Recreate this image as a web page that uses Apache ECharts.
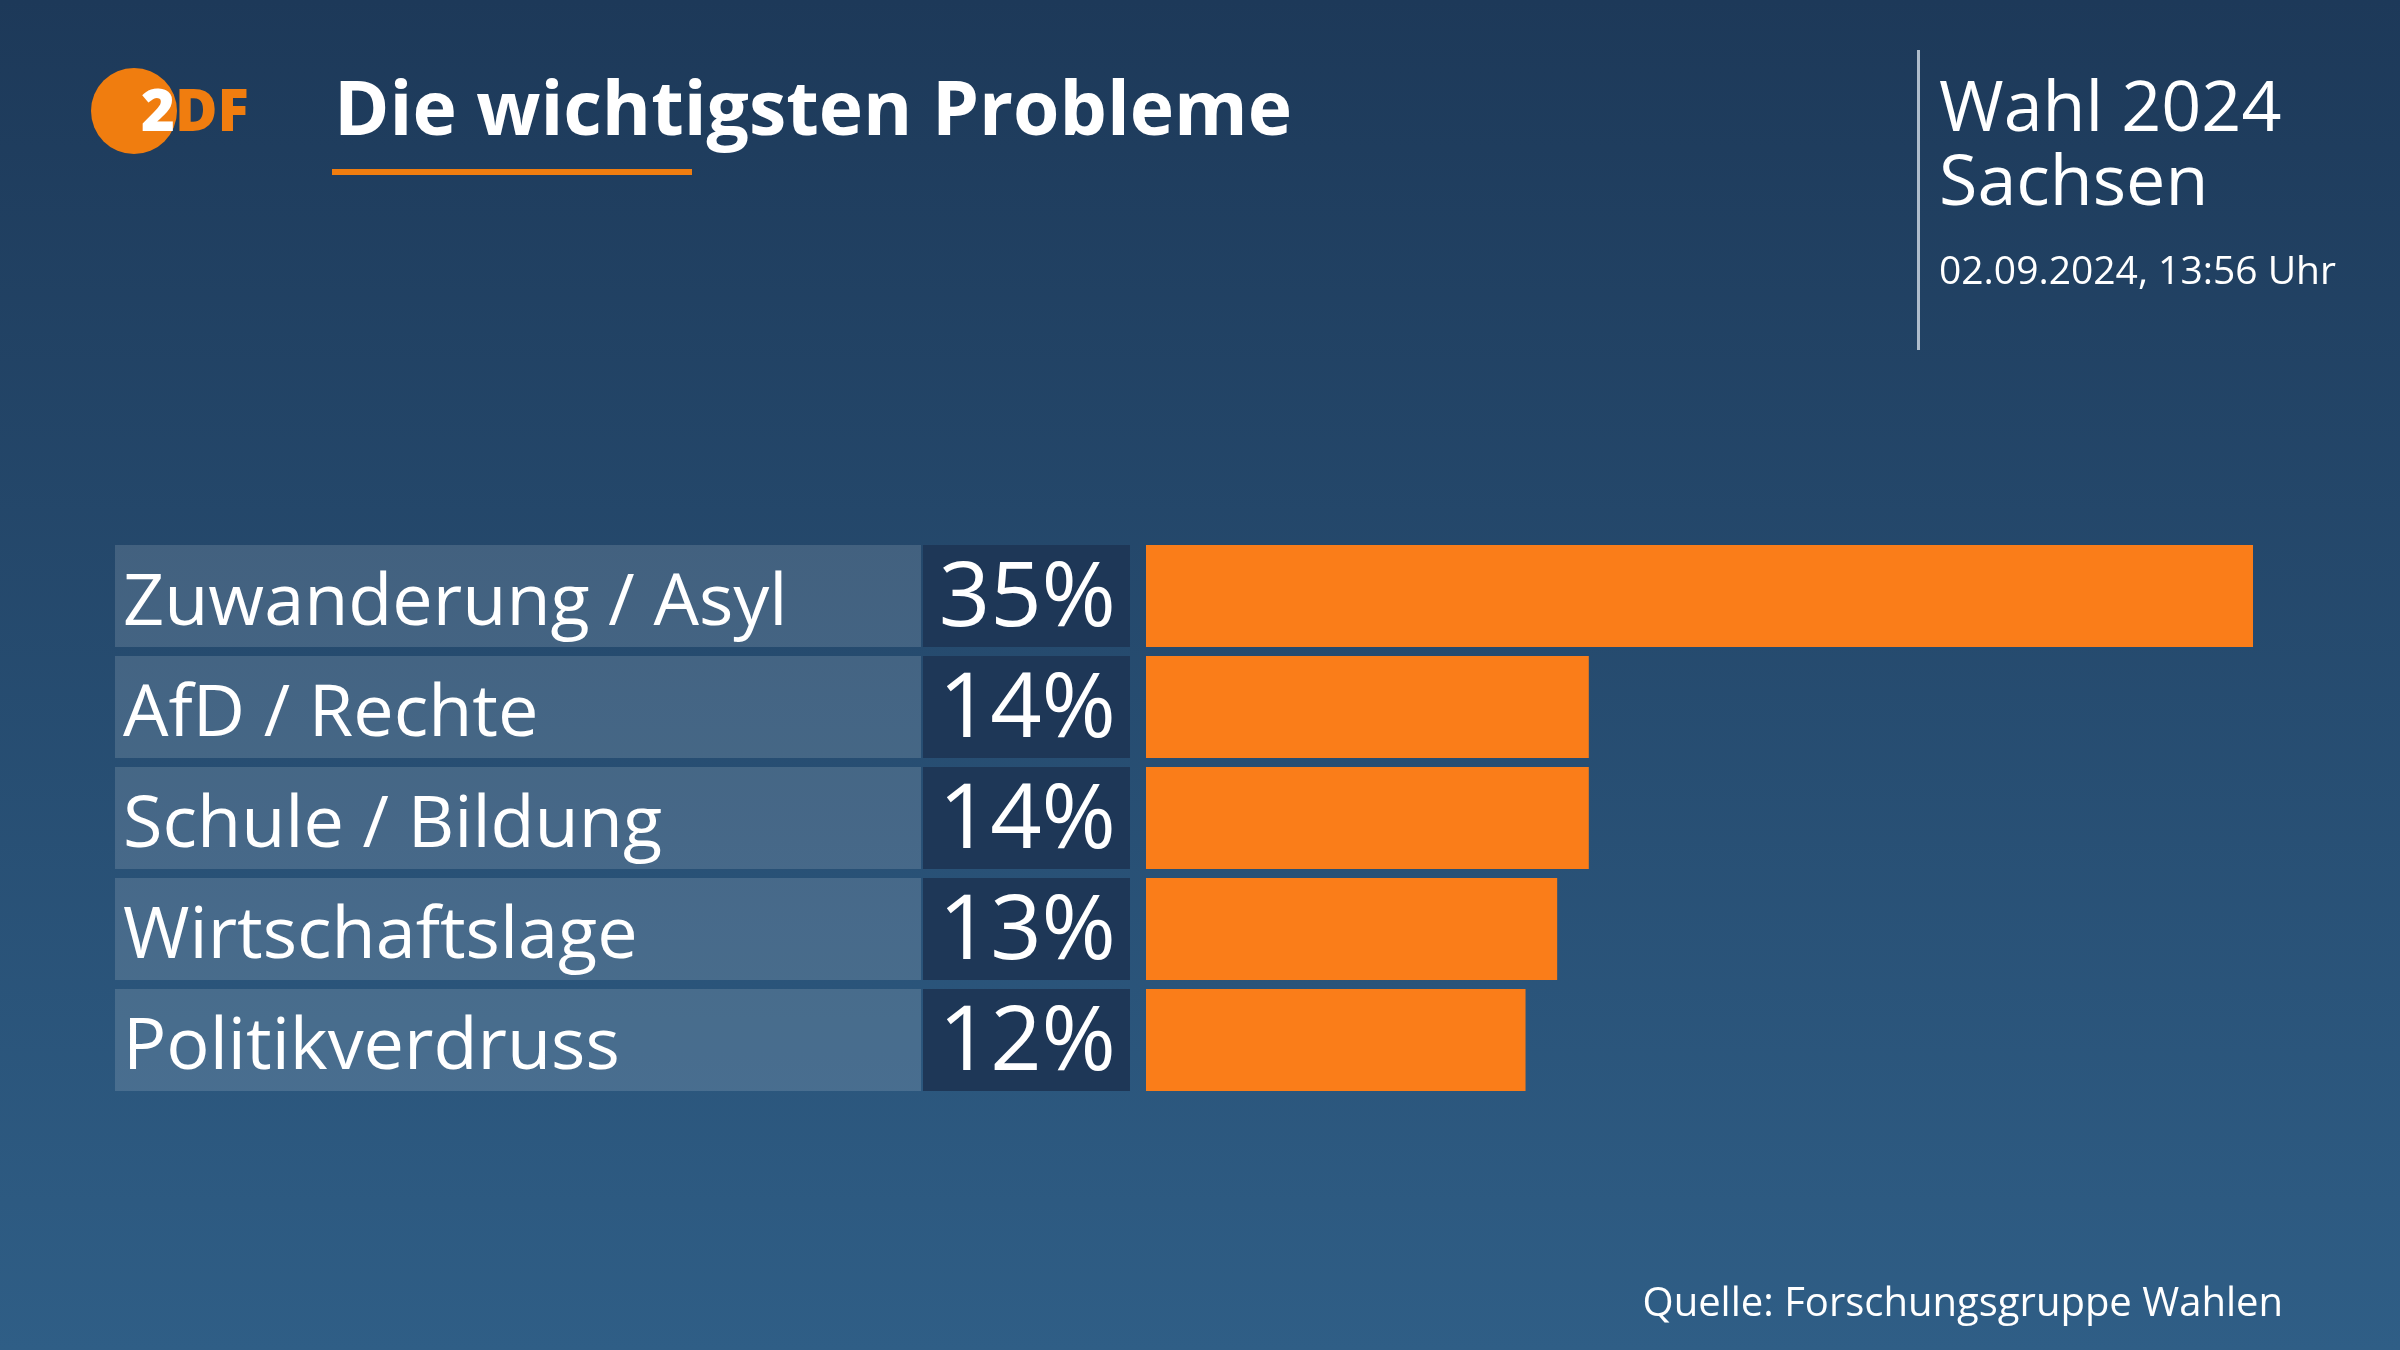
<!DOCTYPE html>
<html>
<head>
<meta charset="utf-8">
<script src="https://cdn.jsdelivr.net/npm/echarts@6/dist/echarts.min.js"></script>
<style>
html,body{margin:0;padding:0;width:2400px;height:1350px;overflow:hidden;}
#chart{width:2400px;height:1350px;}
</style>
</head>
<body>
<div id="chart"></div>
<script>
const categories = ['Zuwanderung / Asyl', 'AfD / Rechte', 'Schule / Bildung', 'Wirtschaftslage', 'Politikverdruss'];
const values = [35, 14, 14, 13, 12];
const titleText = 'Die wichtigsten Probleme';
const headerLines = ['Wahl 2024', 'Sachsen'];
const dateText = '02.09.2024, 13:56 Uhr';
const sourceText = 'Quelle: Forschungsgruppe Wahlen';

const FONT = '"Open Sans", "Noto Sans", sans-serif';
const chart = echarts.init(document.getElementById('chart'), null, {renderer: 'canvas'});

const option = {
  backgroundColor: {
    type: 'linear', x: 0, y: 0, x2: 0, y2: 1,
    colorStops: [{offset: 0, color: '#1d3959'}, {offset: 1, color: '#2f5e86'}]
  },
  animation: false,
  grid: {left: 1146, right: 147, top: 540.5, height: 555, containLabel: false},
  xAxis: {type: 'value', min: 0, max: 35, show: false},
  yAxis: {type: 'category', data: categories, inverse: true, show: false},
  series: [
    {
      type: 'custom',
      coordinateSystem: 'cartesian2d',
      encode: {y: 0, x: 1},
      data: categories.map((c, i) => [i, 0]),
      renderItem: function (params, api) {
        const idx = api.value(0);
        const pt = api.coord([0, idx]);
        const band = api.size([0, 1])[1];
        const h = band * 0.919;
        const y0 = pt[1] - h / 2;
        return {
          type: 'group',
          children: [
            {type: 'rect', shape: {x: 115, y: y0, width: 806, height: h},
             style: {fill: 'rgba(255,255,255,0.14)'}},
            {type: 'rect', shape: {x: 923, y: y0, width: 207, height: h},
             style: {fill: '#1e3757'}},
            {type: 'text', x: 123, y: pt[1] + 8,
             style: {text: categories[idx], fill: '#ffffff', font: '400 72px ' + FONT,
                     align: 'left', verticalAlign: 'middle'}},
            {type: 'text', x: 1116, y: pt[1] + 4,
             style: {text: values[idx] + '%', fill: '#ffffff', font: '400 90px ' + FONT,
                     align: 'right', verticalAlign: 'middle'}}
          ]
        };
      }
    },
    {
      type: 'bar',
      data: values,
      barWidth: '91.9%',
      itemStyle: {color: '#fa7d19'},
      silent: true
    }
  ],
  graphic: [
    {type: 'circle', shape: {cx: 134, cy: 111, r: 43}, style: {fill: '#f07d0f'}},
    {type: 'text', x: 141, y: 114, style: {text: '2', fill: '#ffffff', font: '800 58px ' + FONT, align: 'left', verticalAlign: 'middle'}},
    {type: 'text', x: 175, y: 114, style: {text: 'DF', fill: '#f07d0f', font: '800 58px ' + FONT, align: 'left', verticalAlign: 'middle'}},
    {type: 'text', x: 334, y: 114, style: {text: titleText, fill: '#ffffff', font: '700 75px ' + FONT, align: 'left', verticalAlign: 'middle'}},
    {type: 'rect', shape: {x: 332, y: 169, width: 360, height: 6}, style: {fill: '#f07d0f'}},
    {type: 'rect', shape: {x: 1917, y: 50, width: 3, height: 300}, style: {fill: '#aebccb'}},
    {type: 'text', x: 1939, y: 111, style: {text: headerLines[0], fill: '#ffffff', font: '400 70px ' + FONT, align: 'left', verticalAlign: 'middle'}},
    {type: 'text', x: 1939, y: 185, style: {text: headerLines[1], fill: '#ffffff', font: '400 70px ' + FONT, align: 'left', verticalAlign: 'middle'}},
    {type: 'text', x: 1939, y: 273, style: {text: dateText, fill: '#ffffff', font: '400 39px ' + FONT, align: 'left', verticalAlign: 'middle'}},
    {type: 'text', x: 2283, y: 1305, style: {text: sourceText, fill: '#ffffff', font: '400 40px ' + FONT, align: 'right', verticalAlign: 'middle'}}
  ]
};
chart.setOption(option);
</script>
</body>
</html>
